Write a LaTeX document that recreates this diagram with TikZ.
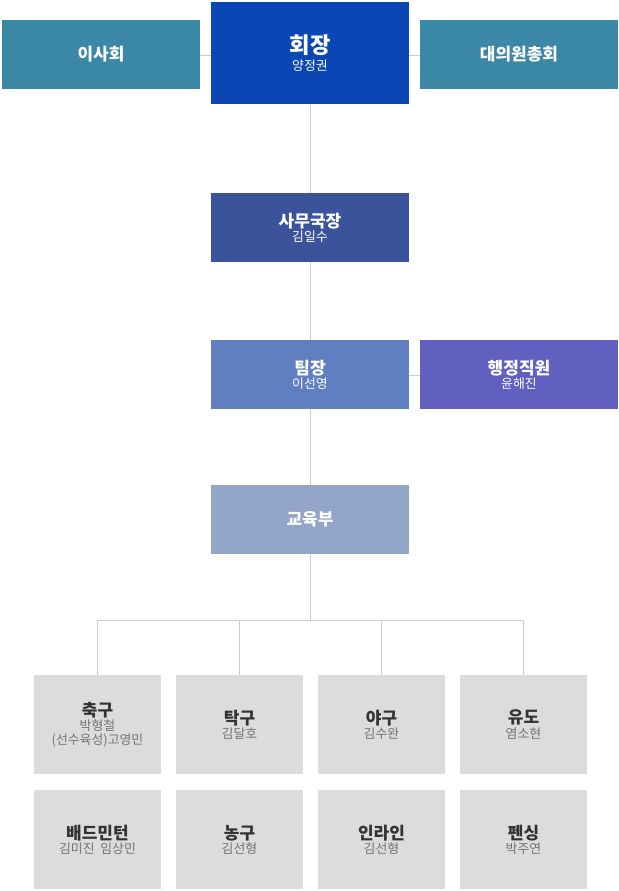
\documentclass[tikz,border=0pt]{standalone}
\usepackage{fontspec}
\setmainfont{Noto Sans CJK KR}
\definecolor{chair}{HTML}{0A47B5}
\definecolor{teal}{HTML}{3B87A6}
\definecolor{sec}{HTML}{3A539B}
\definecolor{lead}{HTML}{5F7FC0}
\definecolor{staff}{HTML}{6160C0}
\definecolor{edu}{HTML}{93A6C9}
\definecolor{sport}{HTML}{DCDCDC}
\definecolor{wire}{HTML}{CCCCCC}
\tikzset{
  box/.style={draw=none,inner sep=0pt,align=center,text=white},
  sportbox/.style={box,fill=sport,text=black!80,minimum width=127*0.3mm,minimum height=99*0.3mm},
  wirelink/.style={draw=wire,line width=0.8pt},
}
\newcommand{\ttl}[1]{{\fontsize{14.5}{17}\selectfont\bfseries #1}}
\newcommand{\nm}[1]{{\fontsize{11}{15}\selectfont #1}}
\begin{document}
\begin{tikzpicture}[x=0.3mm,y=-0.3mm]
\useasboundingbox (0,0) rectangle (619,891);
% connectors
\coordinate (split) at (310,620);
\draw[wirelink] (310,104) -- (split);
\draw[wirelink] (200,55) -- (420,55);
\draw[wirelink] (409,375) -- (420,375);
\draw[wirelink] (97,675) -- (97,620) -- (523,620) -- (523,675);
\draw[wirelink] (239,620) -- (239,675);
\draw[wirelink] (381,620) -- (381,675);
% top row
\fill[teal] (2,20) rectangle (200,89);
\node[box] (board) at (101,54.5) {\ttl{이사회}};
\fill[teal] (420,20) rectangle (618,89);
\node[box] (assembly) at (519,54.5) {\ttl{대의원총회}};
\fill[chair] (211,2) rectangle (409,104);
\node[box] (chair) at (310,53) {{\fontsize{19}{24}\selectfont\bfseries 회장}\\[2pt]\nm{양정권}};
% middle column
\fill[sec] (211,193) rectangle (409,262);
\node[box] (secretary) at (310,227.5) {\ttl{사무국장}\\\nm{김일수}};
\fill[lead] (211,340) rectangle (409,409);
\node[box] (leader) at (310,374.5) {\ttl{팀장}\\\nm{이선영}};
\fill[staff] (420,340) rectangle (618,409);
\node[box] (staff) at (519,374.5) {\ttl{행정직원}\\\nm{윤해진}};
\fill[edu] (211,485) rectangle (409,554);
\node[box] (edu) at (310,519.5) {\ttl{교육부}};
% sports
\node[sportbox] (soccer) at (97.5,724.5) {\ttl{축구}\\\color{black!55}\nm{박형철}\\\color{black!55}\nm{(선수육성)고영민}};
\node[sportbox] (tabletennis) at (239.5,724.5) {\ttl{탁구}\\\color{black!55}\nm{김달호}};
\node[sportbox] (baseball) at (381.5,724.5) {\ttl{야구}\\\color{black!55}\nm{김수완}};
\node[sportbox] (judo) at (523.5,724.5) {\ttl{유도}\\\color{black!55}\nm{염소현}};
\node[sportbox] (badminton) at (97.5,839.5) {\ttl{배드민턴}\\\color{black!55}\nm{김미진\ \ 임상민}};
\node[sportbox] (basketball) at (239.5,839.5) {\ttl{농구}\\\color{black!55}\nm{김선형}};
\node[sportbox] (inline) at (381.5,839.5) {\ttl{인라인}\\\color{black!55}\nm{김선형}};
\node[sportbox] (fencing) at (523.5,839.5) {\ttl{펜싱}\\\color{black!55}\nm{박주연}};
\end{tikzpicture}
\end{document}
